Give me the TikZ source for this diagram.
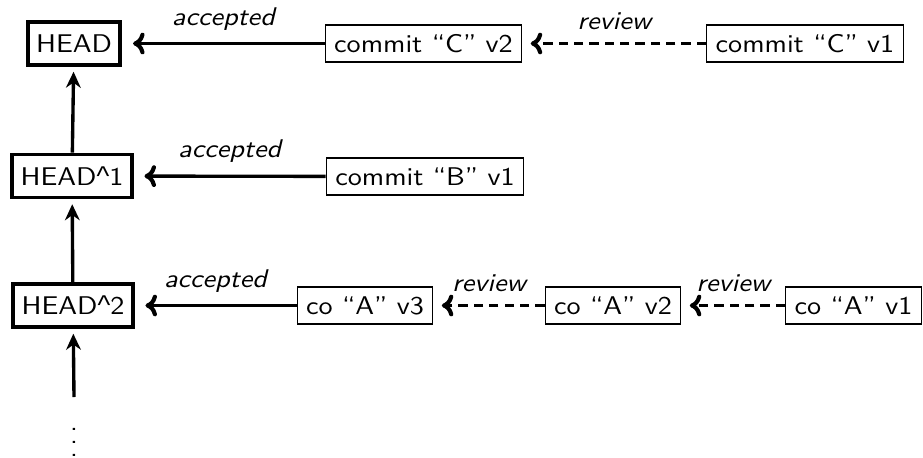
\documentclass[tikz,border=0pt]{standalone}
\usepackage{fontspec}
\setmainfont{lmsans10-regular.otf}[ItalicFont=lmsans10-oblique.otf,FakeStretch=1.1]
\newfontfamily\caretfont{Liberation Sans}
\newcommand{\mycaret}{{\caretfont\fontsize{8.5pt}{10pt}\selectfont\symbol{94}}}
\usetikzlibrary{arrows.meta}
\begin{document}
\begin{tikzpicture}[x=0.3125pt,y=-0.3125pt,font=\fontsize{8pt}{10pt}\selectfont,
  htip/.style={-{To[length=3.6pt,width=6.8pt,line width=1.3pt]}},
  vtip/.style={-{Stealth[length=5pt,width=4.6pt,inset=1.6pt]}},
  headbox/.style={draw,line width=1.2pt,inner xsep=2.6pt,inner ysep=0pt,minimum height=43*0.3125pt},
  cbox/.style={draw,line width=0.4pt,inner xsep=2.8pt,inner ysep=0pt,minimum height=37*0.3125pt},
  acc/.style={htip,line width=1.05pt,shorten >=3.4pt},
  rev/.style={htip,line width=1.05pt,dash pattern=on 2.9pt off 1.9pt,shorten >=2.6pt},
  vup/.style={vtip,line width=1.05pt,shorten >=1.5pt},
  lbl/.style={above=0.3pt,font=\fontsize{8pt}{10pt}\selectfont\itshape}]
\useasboundingbox (0,0) rectangle (923,457);
% head chain
\node[headbox] (h0) at (74,43.5) {HEAD};
\node[headbox] (h1) at (72,176) {HEAD\mycaret1};
\node[headbox] (h2) at (73,305.5) {HEAD\mycaret2};
\coordinate (low) at (74,397);
\node[anchor=base,inner sep=0pt] (dots) at (74,456) {$\vdots$};
% row 1
\node[cbox] (c2) at (423.5,43.5) {commit “C” v2};
\node[cbox] (c1) at (805,43.5) {commit “C” v1};
% row 2
\node[cbox] (b1) at (425,176.5) {commit “B” v1};
% row 3
\node[cbox] (a3) at (365,305.5) {co “A” v3};
\node[cbox] (a2) at (613,305.5) {co “A” v2};
\node[cbox,anchor=east] (a1) at (922,305.5) {co “A” v1};
% connectors
\draw[vup] (h1) -- (h0);
\draw[vup] (h2) -- (h1);
\draw[vup] (low) -- (h2);
\draw[acc] (c2) -- node[lbl]{accepted} (h0);
\draw[rev] (c1) -- node[lbl]{review} (c2);
\draw[acc] (b1) -- node[lbl]{accepted} (h1);
\draw[acc] (a3) -- node[lbl]{accepted} (h2);
\draw[rev] (a2) -- node[lbl]{review} (a3);
\draw[rev] (a1) -- node[lbl]{review} (a2);
\end{tikzpicture}
\end{document}
